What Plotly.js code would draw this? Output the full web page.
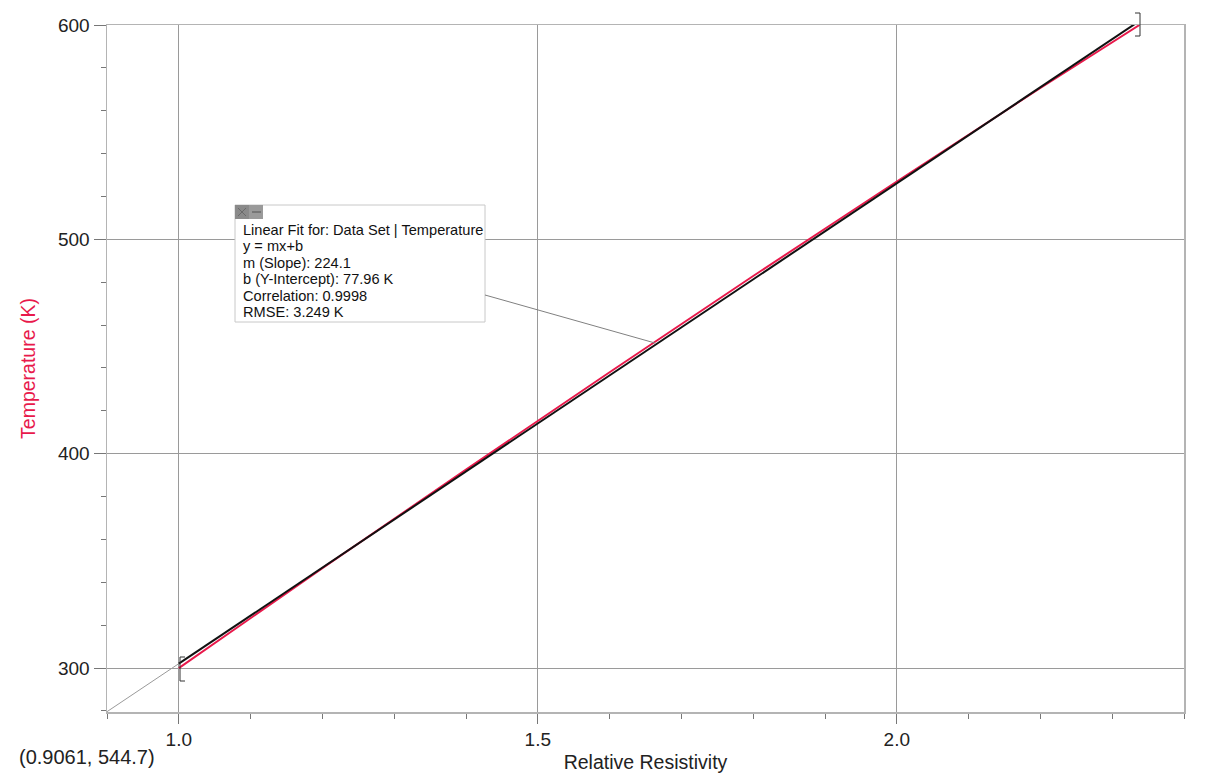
<!DOCTYPE html>
<html>
<head>
<meta charset="utf-8">
<script src="https://cdn.plot.ly/plotly-3.0.1.min.js"></script>
<style>html,body{margin:0;padding:0;background:#fff;}#chart{width:1205px;height:773px;}</style>
</head>
<body>
<div id="chart"></div>
<script>
// Measured data: Relative Resistivity vs Temperature (K)
var resistivity = [1.0, 1.2, 1.4, 1.6, 1.8, 2.0, 2.2, 2.338];
var temperature = [300.0, 346.6, 392.6, 438.0, 482.9, 527.0, 570.6, 600.0];

// Linear fit parameters (from the fit box)
var fitSlope = 224.1;
var fitIntercept = 77.96;
var fitLabels = [
  "Linear Fit for: Data Set | Temperature",
  "y = mx+b",
  "m (Slope): 224.1",
  "b (Y-Intercept): 77.96 K",
  "Correlation: 0.9998",
  "RMSE: 3.249 K"
];
var cursorLabel = "(0.9061, 544.7)";
var xRange = [0.9, 2.4];
var yRange = [279.5, 600];

var xFirst = resistivity[0], xLast = resistivity[resistivity.length - 1];
var fitX = [xFirst, xLast];
var fitY = fitX.map(function (x) { return fitSlope * x + fitIntercept; });
var extX = [xRange[0], xFirst];
var extY = extX.map(function (x) { return fitSlope * x + fitIntercept; });

// pixel -> paper helpers for decorations (plot area 107..1184, 25..712)
var L = 107, R = 1184, T = 25, B = 712;
function px(x) { return (x - L) / (R - L); }
function py(y) { return (B - y) / (B - T); }

var font = "Liberation Sans, Arial, sans-serif";
var red = "#e8194b";

var traces = [
  { x: extX, y: extY, mode: "lines", line: { color: "#9a9a9a", width: 1 }, hoverinfo: "skip", showlegend: false },
  { x: resistivity, y: temperature, mode: "lines", line: { color: red, width: 2 }, showlegend: false },
  { x: fitX, y: fitY, mode: "lines", line: { color: "#111111", width: 2 }, showlegend: false }
];

var shapes = [
  // fit box
  { type: "rect", xref: "paper", yref: "paper", x0: px(235), x1: px(485), y0: py(205), y1: py(322),
    fillcolor: "#ffffff", line: { color: "#c8c8c8", width: 1 }, layer: "above" },
  // icon squares
  { type: "rect", xref: "paper", yref: "paper", x0: px(235), x1: px(249), y0: py(205), y1: py(219),
    fillcolor: "#8a8a8a", line: { width: 0 }, layer: "above" },
  { type: "rect", xref: "paper", yref: "paper", x0: px(249), x1: px(263), y0: py(205), y1: py(219),
    fillcolor: "#9a9a9a", line: { width: 0 }, layer: "above" },
  { type: "path", xref: "paper", yref: "paper",
    path: "M" + px(238) + "," + py(208) + " L" + px(246) + "," + py(216) + " M" + px(246) + "," + py(208) + " L" + px(238) + "," + py(216),
    line: { color: "#6a6a6a", width: 1 }, layer: "above" },
  { type: "line", xref: "paper", yref: "paper", x0: px(252), x1: px(261), y0: py(212), y1: py(212),
    line: { color: "#6a6a6a", width: 1.5 }, layer: "above" },
  // pointer line
  { type: "line", xref: "paper", yref: "paper", x0: px(485), y0: py(295), x1: px(655), y1: py(343),
    line: { color: "#808080", width: 1 }, layer: "above" },
  // region brackets
  { type: "path", xref: "paper", yref: "paper",
    path: "M" + px(185) + "," + py(657) + " L" + px(180) + "," + py(657) + " L" + px(180) + "," + py(681) + " L" + px(185) + "," + py(681),
    line: { color: "#333333", width: 1 }, layer: "above" },
  { type: "path", xref: "paper", yref: "paper",
    path: "M" + px(1135) + "," + py(13) + " L" + px(1140) + "," + py(13) + " L" + px(1140) + "," + py(36) + " L" + px(1135) + "," + py(36),
    line: { color: "#333333", width: 1 }, layer: "above" }
];

var annotations = fitLabels.map(function (t, i) {
  return { xref: "paper", yref: "paper", x: px(241), y: py(230 + 16.4 * i), xanchor: "left", yanchor: "middle",
    text: t, showarrow: false, font: { family: font, size: 14.6, color: "#111" } };
});
annotations.push({ xref: "paper", yref: "paper", x: px(17), y: py(757), xanchor: "left", yanchor: "middle",
  text: cursorLabel, showarrow: false, font: { family: font, size: 20, color: "#222" } });

var layout = {
  width: 1205, height: 773,
  margin: { l: L, r: 1205 - R, t: T, b: 773 - B, pad: 0 },
  paper_bgcolor: "#ffffff", plot_bgcolor: "#ffffff",
  font: { family: font, color: "#222" },
  showlegend: false,
  xaxis: {
    range: xRange, tick0: 1.0, dtick: 0.5, tickformat: ".1f",
    ticks: "outside", ticklen: 10, tickcolor: "#777", tickwidth: 1,
    minor: { dtick: 0.1, tick0: 0.9, ticks: "outside", ticklen: 5, tickcolor: "#777", showgrid: false },
    showgrid: true, gridcolor: "#9a9a9a", gridwidth: 1, zeroline: false,
    showline: true, linecolor: "#b4b4b4", linewidth: 1.5, mirror: true,
    tickfont: { family: font, size: 19, color: "#222" },
    title: { text: "Relative Resistivity", font: { family: font, size: 19.5, color: "#222" }, standoff: 6 }
  },
  yaxis: {
    range: yRange, tick0: 300, dtick: 100,
    ticks: "outside", ticklen: 12, tickcolor: "#777", tickwidth: 1,
    minor: { dtick: 20, tick0: 300, ticks: "outside", ticklen: 5, tickcolor: "#777", showgrid: false },
    showgrid: true, gridcolor: "#9a9a9a", gridwidth: 1, zeroline: false,
    showline: true, linecolor: "#b4b4b4", linewidth: 1.5, mirror: true,
    tickfont: { family: font, size: 19, color: "#222" },
    title: { text: "Temperature (K)", font: { family: font, size: 19.5, color: red }, standoff: 17 }
  },
  shapes: shapes,
  annotations: annotations
};

Plotly.newPlot("chart", traces, layout, { displayModeBar: false, staticPlot: true });
</script>
</body>
</html>
